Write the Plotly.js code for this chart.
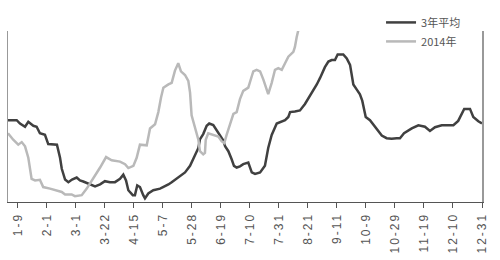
<!DOCTYPE html>
<html>
<head>
<meta charset="utf-8">
<script src="https://cdn.plot.ly/plotly-3.0.1.min.js"></script>
<style>
html,body{margin:0;padding:0;background:#fff;}
#chart{width:500px;height:260px;}
#chart g.xtick text{letter-spacing:2px !important;}
</style>
</head>
<body>
<div id="chart"></div>
<script>
// trading-day index (0 = first trading day of the year) and values
const avgX = [0,4.5,6.2,8.8,10.5,13.1,14.8,16.5,19.1,20.8,25.3,26.9,27.8,29.5,31.2,33.1,35.5,37.2,38.9,41.5,45,47.6,50.1,52.7,55.3,57.9,59.6,61,62.2,64.5,65.6,66.8,68.2,69.9,70.8,72.5,75.1,78.6,80.3,82.9,84.6,88,91.5,94.1,95.8,97.5,98.4,99.2,100.9,102.7,104,106.1,107.9,109.6,111.3,112.2,113.9,115.6,116.8,118.2,119.9,121.6,124.2,126,127.7,130.3,132.8,134.5,136.3,138.9,141.5,143.2,144.9,145.8,148.3,150.9,153.5,156.1,157.8,159.6,161.3,163.8,165.6,167.3,169,170.4,173.3,175.1,176.8,177.6,178.5,180.2,181.9,183.1,184.2,184.9,187.1,189.7,191.4,193.2,195.7,198.3,200.9,202.6,204.7,208.7,212.1,215.5,218.1,220.7,224.2,230.2,232.7,234.7,235.8,238.8,240.5,243.1,245];
const avgY = [83.7,83.7,80.3,77,82,78,77,70.3,68.7,59.3,58.7,45.3,34,23,20.3,23,25,22,21,18.7,16,18,21.3,20.3,20.3,23.7,28,22,12,7,7,17,15.3,7,3.7,8.7,12,13.7,15.3,18,20.3,25.3,30.3,37,44.5,51,55.3,64,69.5,78,80.3,78.7,73.7,68,63,57,52,43.7,37,35.3,36.5,38.7,40.3,30.3,28.7,30.3,37,55.3,68.7,80.3,82,83.7,87,92,92.7,93.7,100.3,108.7,115.3,120.3,127,138,143.7,145.3,145.3,151,151,147,140.3,128.7,120.3,115.3,110.3,103.7,95.3,87,83.7,77,73.7,68,65.3,64.7,65.3,65.3,70.3,75.3,78.5,77,72.7,76.5,78.5,78.5,83,90.3,95.3,95.3,87,82.7,80.3];
const y2014X = [0,2.7,5.3,7.1,8.8,10.5,12.2,14,16.5,18.2,21.7,25.2,27.8,29.5,32.9,34.6,38.1,40.7,44.1,47.6,50.7,53.6,57.9,60.5,62.2,64.8,66.5,68.2,71.7,73.4,76,77.7,79.1,80.3,82.9,84.6,86.3,88,89.4,91.5,93.2,94.1,94.9,96.7,98.4,99.2,100.9,101.8,102.2,103.5,106.1,108.7,110.5,111.8,113,114.7,116.5,118.2,119.9,121.6,124.2,126,126.8,128.5,130.3,132,133.7,134.5,136.3,138,139.7,141.5,143.2,144.9,147.5,148.3,149.2,150];
const y2014Y = [70.3,63.7,58.7,61.3,57,45.3,23.7,22,22.7,15.3,13.7,12,10.3,7.7,7.7,6,7,13.7,23.7,35.3,46,42.7,41.3,38.7,34.7,37,45.3,58.7,58,75.3,79.5,92,107,117,120.3,122,134.5,142,133.7,130,124,112,88.7,75.3,63.7,52,48.7,50.3,63.7,70.3,68.7,67,62,60.3,68.7,80.3,90.3,92,105.3,113.7,117,128.7,133.7,135.3,133.7,125.3,113.7,110.3,122,135.3,137,135.3,142,148.7,153.7,158.7,168.7,175.3];
const tickIdx = [5,20,35,50,65,80,95,110,125,140,155,170,185,200,215,230,245];
const tickLabels = ['1-9','2-1','3-1','3-22','4-15','5-7','5-28','6-19','7-10','7-31','8-21','9-11','10-9','10-29','11-19','12-10','12-31'];

const traces = [
  {x: avgX, y: avgY, name: '3年平均', type: 'scatter', mode: 'lines',
   line: {color: '#404040', width: 2.5}},
  {x: y2014X, y: y2014Y, name: '2014年', type: 'scatter', mode: 'lines',
   line: {color: '#b9b9b9', width: 2.5}}
];

const layout = {
  width: 500, height: 260,
  margin: {l: 8, r: 18, t: 27, b: 58, pad: 0},
  paper_bgcolor: '#fff', plot_bgcolor: '#fff',
  showlegend: true,
  legend: {x: 0.787, xanchor: 'left', y: 1.135, yanchor: 'top',
           bgcolor: 'rgba(0,0,0,0)', borderwidth: 0, tracegroupgap: 0,
           font: {family: '"Noto Sans CJK SC", "Liberation Sans", sans-serif', size: 11, color: '#555'}},
  xaxis: {range: [0, 245], tickmode: 'array', tickvals: tickIdx, ticktext: tickLabels,
          tickangle: -90, ticks: 'outside', ticklen: 5, tickcolor: '#555', tickwidth: 1,
          showline: true, linecolor: '#555', linewidth: 1, showgrid: false, zeroline: false,
          tickfont: {family: '"Liberation Sans", sans-serif', size: 12, color: '#555'}},
  yaxis: {range: [0, 175], showline: true, mirror: true, linecolor: '#999', linewidth: 1.5,
          showticklabels: false, ticks: '', showgrid: false, zeroline: false}
};

Plotly.newPlot('chart', traces, layout, {displayModeBar: false, staticPlot: true});
</script>
</body>
</html>
